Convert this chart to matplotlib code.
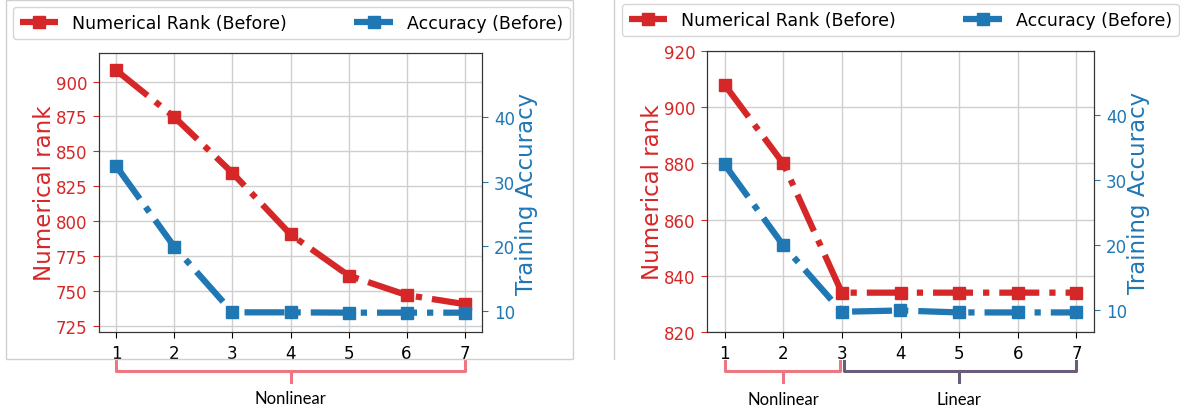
import matplotlib
matplotlib.use("Agg")
import matplotlib.pyplot as plt
import matplotlib.transforms as mtransforms
from matplotlib.patches import Rectangle
from matplotlib.lines import Line2D

# ---- data ----
layers = [1, 2, 3, 4, 5, 6, 7]
rank_left = [908, 874.5, 834.5, 790.5, 761, 747, 740.5]
acc_left = [32.4, 19.9, 9.75, 9.75, 9.7, 9.7, 9.7]
rank_right = [908, 880, 834, 834, 834, 834, 834]
acc_right = [32.4, 20.0, 9.8, 10.0, 9.7, 9.7, 9.7]
rank_ticks_left = [725, 750, 775, 800, 825, 850, 875, 900]
rank_ticks_right = [820, 840, 860, 880, 900, 920]
acc_ticks = [10, 20, 30, 40]
label_rank = "Numerical Rank (Before)"
label_acc = "Accuracy (Before)"
groups_left = [("Nonlinear", 1, 7)]
groups_right = [("Nonlinear", 1, 3), ("Linear", 3, 7)]

RED = "#d62728"
BLUE = "#1f77b4"
PINK = "#ec7781"
PURPLE = "#6c5c7c"
W, H = 1180, 410

fig = plt.figure(figsize=(W / 100, H / 100), dpi=100)


def px_axes(l, r, t, b):
    return fig.add_axes([l / W, 1 - b / H, (r - l) / W, (b - t) / H])


def panel(ax, ranks, accs, rticks, rlim, alim, groups, group_colors):
    ax.plot(layers, ranks, color=RED, lw=4.5, ls="-.", marker="s", ms=9,
            label=label_rank)
    ax.set_xlim(0.7, 7.3)
    ax.set_ylim(*rlim)
    ax.set_yticks(rticks)
    ax.set_xticks(layers)
    ax.grid(True, color="#cfcfcf", lw=1)
    ax.set_axisbelow(True)
    ax.tick_params(axis="y", colors=RED, labelsize=12, length=4.5, pad=4)
    ax.tick_params(axis="x", labelsize=12, length=4.5, pad=4)
    ax.set_ylabel("Numerical rank", color=RED, fontsize=16.5, labelpad=0)
    ax2 = ax.twinx()
    ax2.plot(layers, accs, color=BLUE, lw=4.5, ls="-.", marker="s", ms=9,
             label=label_acc)
    ax2.set_ylim(*alim)
    ax2.set_yticks(acc_ticks)
    ax2.tick_params(axis="y", colors=BLUE, labelsize=12, length=4.5, pad=4)
    ax2.set_ylabel("Training Accuracy", color=BLUE, fontsize=16.5, labelpad=0)
    for sp in ["left", "right", "top", "bottom"]:
        ax2.spines[sp].set_color("#333333")
        ax.spines[sp].set_color("#333333")
    # brackets below the x axis
    tr = mtransforms.blended_transform_factory(ax.transData, ax.transAxes)
    y0, y1, y2, yt = -0.104, -0.14, -0.179, -0.237
    for (name, a, b), col in zip(groups, group_colors):
        da = 0.03 if a > 1 else 0.0
        db = -0.03 if b < 7 else 0.0
        xa, xb = a + da, b + db
        mid = (a + b) / 2
        ax.plot([xa, xa, xb, xb], [y0, y1, y1, y0], color=col, lw=2.2,
                transform=tr, clip_on=False, solid_joinstyle="round")
        ax.plot([mid, mid], [y1, y2], color=col, lw=2.2, transform=tr,
                clip_on=False)
        ax.text(mid, yt, name, transform=tr, ha="center", va="center",
                fontsize=12, family=["Lato", "DejaVu Sans"], color="black")
    return ax2


# decorative frame / divider
fig.add_artist(Rectangle((6 / W, 1 - 360 / H), (573 - 6) / W, (359) / H,
                         transform=fig.transFigure, fill=False,
                         edgecolor="#d0d0d0", lw=1))
fig.add_artist(Line2D([614 / W, 614 / W], [1 - 360 / H, 1], color="#d0d0d0",
                      lw=1, transform=fig.transFigure))

axL = px_axes(99, 482, 54, 333)
axL2 = panel(axL, rank_left, acc_left, rank_ticks_left, (720.5, 920.5),
             (6.7, 50), groups_left, [PINK])
axR = px_axes(707, 1094, 52, 333)
axR2 = panel(axR, rank_right, acc_right, rank_ticks_right, (820, 920),
             (6.7, 49.8), groups_right, [PINK, PURPLE])

for ax, ax2, (lx, ly) in [(axL, axL2, (13, 8)), (axR, axR2, (622, 5))]:
    h1, l1 = ax.get_legend_handles_labels()
    h2, l2 = ax2.get_legend_handles_labels()
    fig.legend(h1 + h2, l1 + l2, loc="upper left",
               bbox_to_anchor=(lx / W, 1 - ly / H), ncol=2, fontsize=12.5,
               borderaxespad=0, handlelength=2.2, columnspacing=3.9,
               handletextpad=0.8)

fig.savefig("out.png", dpi=100)
